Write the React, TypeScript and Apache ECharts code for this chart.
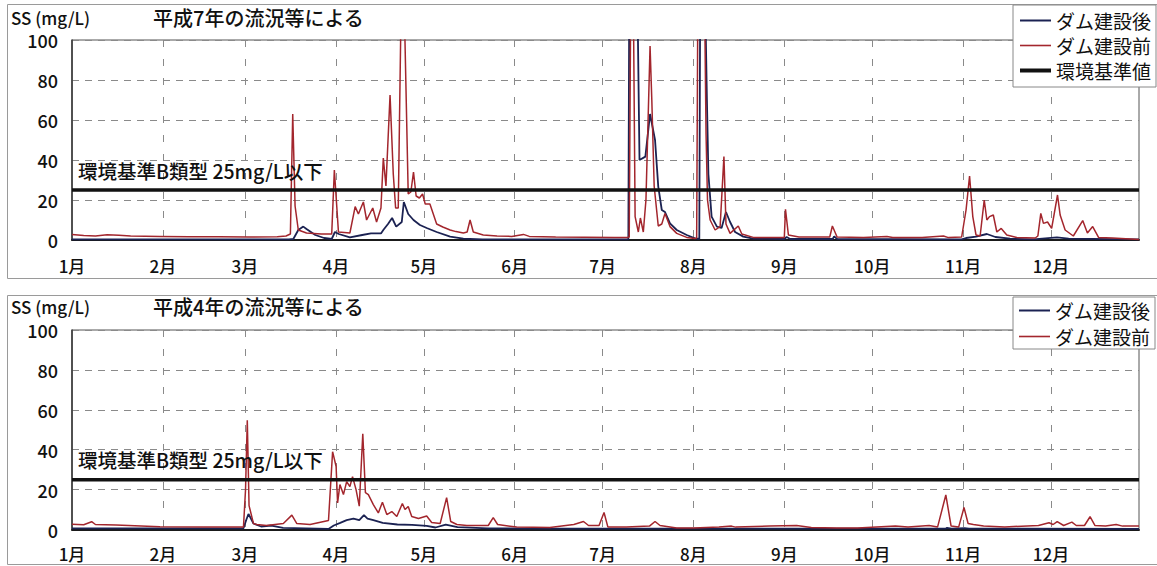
import React, { useEffect, useRef } from "react";
import * as echarts from "echarts";

// ---- labels / categories ----
const monthLabels = ["1月", "2月", "3月", "4月", "5月", "6月", "7月", "8月", "9月", "10月", "11月", "12月"];
const monthStartDays = [0, 31, 59, 90, 120, 151, 181, 212, 243, 273, 304, 334];
const dayCount = 365;
const yMin = 0;
const yMax = 100;
const yInterval = 20;
const standardValue = 25;

const nameAfter = "ダム建設後";
const nameBefore = "ダム建設前";
const nameStandard = "環境基準値";
const unitLabel = "SS (mg/L)";
const chartTitles = ["平成7年の流況等による", "平成4年の流況等による"];
const standardNote = "環境基準B類型 25mg/L以下";

// ---- 平成7年 (top) : [day of year, SS mg/L] ----
const h7Before: [number, number][] = [
  [0, 2.8], [4, 2.2], [8, 2], [12, 2.6], [16, 2.4], [20, 2], [30, 1.8], [40, 1.6], [50, 1.6], [60, 1.5],
  [70, 1.6], [73, 2], [74.5, 3], [75.3, 63], [76.1, 17], [77.2, 5], [80, 3.5], [85, 3], [88.6, 3], [89.5, 35],
  [90.9, 4], [94.8, 3.5], [96.6, 16.7], [97.7, 13], [99.4, 19], [100.5, 10], [102.6, 16], [103.9, 9], [105.4, 16],
  [106.2, 41], [107.1, 27], [108.5, 72.5], [109.6, 33], [110.4, 16], [111.3, 16], [112.3, 120], [113.3, 120],
  [114.7, 23], [115.6, 24], [116.5, 34], [117.4, 22], [118.5, 21], [119.6, 23], [120.5, 18], [122.1, 18],
  [124.4, 8], [126.5, 6.5], [129, 5], [131, 4.2], [133.5, 3.5], [134.8, 4], [135.8, 10], [136.9, 4], [140.3, 2.5],
  [145, 2], [150, 1.8], [154, 2.8], [156, 1.8], [165, 1.5], [175, 1.4], [185, 1.3], [189.5, 1.3], [190.1, 1.5],
  [190.6, 120], [191.5, 120], [192.1, 11.7], [193.2, 4], [193.9, 11], [194.9, 4], [195.8, 20], [197.2, 97],
  [197.8, 70], [198.6, 27], [200, 7], [201.2, 8], [202.3, 13.3], [204, 6.7], [206.3, 3.3], [209.7, 1.3],
  [212.5, 0.8], [213.1, 1], [213.5, 120], [215.8, 120], [216.3, 53], [216.8, 20], [217.7, 10], [219.4, 5],
  [221.1, 6.7], [222.4, 41.7], [223.1, 8], [224.5, 3.3], [227.3, 7], [228.5, 3], [232.4, 1.3], [243, 1.3],
  [243.4, 15.3], [244.4, 2.5], [248, 1.5], [258.5, 1.5], [259.4, 7], [261, 1.5], [270, 1.3], [278, 1.8],
  [280, 1.3], [290, 1.2], [297.3, 2], [299, 1.2], [303.5, 1.5], [305, 15], [306.2, 32], [307.3, 11.7],
  [308.4, 2.5], [309.8, 2], [311.2, 20], [312.1, 10], [313, 11.7], [314.3, 12.5], [315.5, 4], [317, 5.8],
  [318.9, 2.5], [322.3, 1.3], [328.6, 1], [329.5, 2], [330.5, 13.3], [331.4, 8.3], [332.8, 9], [334.2, 5.8],
  [336.2, 22.5], [337.1, 12.5], [338.8, 5], [341.6, 2], [344.8, 9.7], [346.4, 3.5], [348.2, 6.7], [350.2, 1.3],
  [355, 1], [364, 0.3],
];

const h7After: [number, number][] = [
  [0, 0.3], [74, 0.3], [75.5, 0.5], [77.2, 5], [78.9, 6.7], [80, 5.5], [81.5, 4], [83, 2.5], [86, 1], [88.6, 0.5],
  [89.7, 4], [91, 3], [94.8, 1.3], [99, 2.5], [102, 3.3], [105.4, 3.3], [106.2, 5], [107.8, 8], [109.2, 11],
  [110.6, 6.7], [112.5, 9], [113.2, 19], [114.7, 13], [116.5, 10], [118.7, 7.5], [121, 6], [124.4, 4], [129, 1.7],
  [133.5, 0.7], [140, 0.3], [189.8, 0.3], [190.1, 120], [192.9, 120], [193.6, 40], [195.6, 41.7], [197.2, 63],
  [198.9, 50], [200, 26.7], [201.2, 15], [202.3, 14], [204, 8.3], [206.3, 5], [209.7, 2.5], [212.5, 0.8],
  [214, 0.5], [214.3, 120], [216, 120], [216.6, 70], [217.1, 33], [218.2, 11.7], [220, 6.7], [221.6, 6],
  [223.1, 14], [224.5, 9], [226.2, 4], [229, 1.7], [232.4, 0.7], [243, 0.5], [243.8, 1.5], [245, 0.5],
  [259.5, 0.5], [260, 1.8], [261, 0.5], [303.5, 0.3], [305, 1], [308.4, 1.7], [312.1, 3], [315, 1.5],
  [320, 0.7], [328, 0.3], [336, 1.3], [340, 0.7], [364, 0.3],
];

// ---- 平成4年 (bottom) ----
const h4Before: [number, number][] = [
  [0, 2.6], [4, 2.4], [6.7, 3.9], [8, 2.5], [15, 2.2], [30, 1.4], [45, 1.3], [58.5, 1.3], [59.2, 20], [59.8, 54.7],
  [60.4, 12], [61.9, 3], [63, 2.5], [66.4, 2], [72.1, 3], [75, 7.2], [76.7, 3], [81.2, 2.5], [87.5, 4.5], [88.9, 39],
  [90.1, 31.6], [90.6, 13.3], [91.4, 22.5], [92.6, 17.5], [93.7, 24], [94.8, 21.5], [95.7, 26.5], [96.9, 20],
  [98, 11.7], [99.2, 48], [100.1, 18.5], [101.1, 17.5], [102.8, 12.5], [104.5, 8.3], [105.9, 13.7], [107.4, 7.5],
  [109.1, 9], [110.8, 6.5], [112.7, 13], [113.6, 10], [114.7, 11.5], [115.9, 6.5], [118.2, 5.5], [121, 6.8],
  [122.7, 3.5], [125.6, 3], [127.8, 16], [129.2, 4], [131.3, 2.5], [134.7, 2], [142, 2], [143.7, 6], [145.2, 2.5],
  [151.7, 1.2], [163, 1], [171.2, 2.5], [174.5, 4], [176.2, 2], [179.8, 2], [181.5, 8.5], [182.8, 1.3],
  [189.1, 1.3], [197, 1.7], [198.9, 4], [200.6, 2], [206.3, 0.8], [212.1, 0.8], [220.7, 1.3], [225, 1.7],
  [226.4, 1.2], [237.9, 1.7], [247.2, 2], [252.2, 1], [260.9, 0.7], [268, 0.7], [280.9, 1.7], [285.2, 1.3],
  [292.4, 2], [295.3, 1.3], [298.1, 17.3], [299.9, 1.7], [302.5, 1.3], [304.3, 11], [305.7, 3], [307.5, 2.5],
  [311, 1.7], [318.2, 1.3], [329.7, 2], [333.3, 3.4], [334.7, 2.5], [336.1, 4], [338.3, 2], [341.1, 3.7],
  [342.6, 2], [345.4, 2], [347.3, 6.4], [349, 2], [352.6, 1.7], [356.2, 2.5], [358.4, 1.7], [364, 1.7],
];

const h4After: [number, number][] = [
  [0, 0.6], [58.5, 0.6], [59.5, 5], [60.2, 7.8], [61.9, 3], [64.5, 1.5], [68, 2], [72, 0.8], [87.5, 0.3],
  [89.3, 2], [91.5, 3.3], [93.7, 4.7], [96, 5.5], [98, 4.7], [99.6, 7.2], [100.8, 5.5], [102.8, 4.7], [106, 3.3],
  [111, 2.5], [116, 2.3], [121, 1.8], [124, 1], [127.5, 2.5], [131.5, 1.2], [142, 0.6], [160, 0.4], [298, 0.4],
  [298.5, 0.8], [300, 0.4], [304.5, 0.7], [306, 0.4], [364, 0.3],
];

const standardLine: [number, number][] = [[0, standardValue], [dayCount - 1, standardValue]];

const colorAfter = "#1b2252";
const colorBefore = "#a3262d";
const colorStandard = "#111111";
const FONT = '"Noto Sans CJK JP", "Noto Sans", sans-serif';

export default function App() {
  const ref = useRef<HTMLDivElement>(null);

  useEffect(() => {
    if (!ref.current) return;
    const chart = echarts.init(ref.current, undefined, { renderer: "svg" });
    const dayCategories = Array.from({ length: dayCount }, (_, i) => "d" + i);
    const isMonthStart = (i: number) => monthStartDays.indexOf(i) >= 0;
    const monthOf = (i: number) => monthLabels[monthStartDays.indexOf(i)] || "";

    const grids = [
      { left: 72, top: 40, width: 1067, height: 200 },
      { left: 72, top: 330, width: 1067, height: 199.5 },
    ];
    const labelMargins = [17, 15];

    const xAxes: any[] = [];
    const yAxes: any[] = [];
    grids.forEach((_, gi) => {
      xAxes.push({
        type: "value", gridIndex: gi, min: 0, max: dayCount - 1, show: false,
      });
      xAxes.push({
        type: "category", gridIndex: gi, position: "bottom", data: dayCategories, boundaryGap: false,
        axisLine: { show: true, lineStyle: { color: "#1a1a1a", width: 2 } },
        axisTick: { show: false },
        axisLabel: {
          interval: (i: number) => isMonthStart(i),
          formatter: (_v: string, i: number) => monthOf(i),
          fontSize: 17, fontWeight: 500, fontFamily: FONT, color: "#111", margin: labelMargins[gi],
        },
        splitLine: {
          show: true,
          interval: (i: number) => isMonthStart(i) && i > 0,
          lineStyle: { color: "#8a8a8a", width: 1, type: [7, 12] },
        },
      });
      yAxes.push({
        type: "value", gridIndex: gi, min: yMin, max: yMax, interval: yInterval,
        axisLine: { show: true, lineStyle: { color: "#333", width: 1.5 } },
        axisTick: { show: false },
        axisLabel: { fontSize: 18, fontWeight: 500, fontFamily: FONT, color: "#111", margin: 14 },
        splitLine: { show: true, lineStyle: { color: "#8a8a8a", width: 1, type: [7, 6] } },
      });
    });

    const line = (name: string, data: [number, number][], gi: number, color: string, width: number, z: number) => ({
      type: "line", name, data, xAxisIndex: gi * 2, yAxisIndex: gi, symbol: "none", showSymbol: false,
      lineStyle: { color, width }, itemStyle: { color }, clip: true, z, silent: true,
    });

    const legendCommon = {
      orient: "vertical", left: 1013, itemWidth: 31, itemHeight: 1,
      textStyle: { fontSize: 19, fontFamily: FONT, color: "#111" },
      borderColor: "#888", borderWidth: 1, backgroundColor: "#fff", borderRadius: 0,
      selectedMode: false,
    };
    const legendItem = (name: string, width: number) => ({ name, lineStyle: { width } });

    const textStyle = (text: string, fontSize: number) => ({
      text, fontSize, fontFamily: FONT, fontWeight: 500, fill: "#111", align: "left", verticalAlign: "middle",
    });

    const option: any = {
      animation: false,
      backgroundColor: "#fff",
      grid: grids.map((g) => ({ ...g, show: true, borderColor: "#555", borderWidth: 1, backgroundColor: "transparent", containLabel: false, outerBoundsMode: "none" })),
      xAxis: xAxes,
      yAxis: yAxes,
      legend: [
        {
          ...legendCommon, top: 5, padding: [6, 5, 7, 5], itemGap: 6,
          data: [legendItem(nameAfter, 2), legendItem(nameBefore, 1.6), legendItem(nameStandard, 4)],
        },
        {
          ...legendCommon, top: 297, padding: [4, 5, 3, 5], itemGap: 7,
          data: [legendItem(nameAfter, 2), legendItem(nameBefore, 1.6)],
        },
      ],
      series: [
        line(nameAfter, h7After, 0, colorAfter, 1.8, 3),
        line(nameBefore, h7Before, 0, colorBefore, 1.5, 4),
        line(nameStandard, standardLine, 0, colorStandard, 3.5, 5),
        line(nameAfter, h4After, 1, colorAfter, 1.8, 3),
        line(nameBefore, h4Before, 1, colorBefore, 1.5, 4),
        line(nameStandard, standardLine, 1, colorStandard, 3.5, 5),
      ],
      graphic: [
        { type: "rect", shape: { x: 7.5, y: 4.5, width: 1160, height: 274 }, style: { fill: "none", stroke: "#9a9a9a", lineWidth: 1 }, z: 0, silent: true },
        { type: "rect", shape: { x: 7.5, y: 295.5, width: 1160, height: 269 }, style: { fill: "none", stroke: "#9a9a9a", lineWidth: 1 }, z: 0, silent: true },
        { type: "text", x: 11, y: 17, style: textStyle(unitLabel, 17), z: 10 },
        { type: "text", x: 153, y: 17, style: textStyle(chartTitles[0], 20), z: 10 },
        { type: "text", x: 11, y: 306, style: textStyle(unitLabel, 17), z: 10 },
        { type: "text", x: 153, y: 306, style: textStyle(chartTitles[1], 20), z: 10 },
        { type: "text", x: 78, y: 170, style: textStyle(standardNote, 19.5), z: 10 },
        { type: "text", x: 78, y: 459.5, style: textStyle(standardNote, 19.5), z: 10 },
      ],
    };
    chart.setOption(option);
    return () => chart.dispose();
  }, []);

  return <div ref={ref} style={{ position: "fixed", left: 0, top: 0, width: 1157, height: 566, background: "#fff" }} />;
}
